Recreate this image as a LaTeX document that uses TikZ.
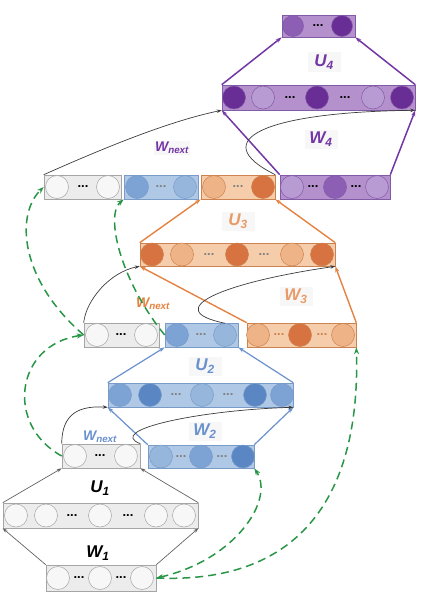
\documentclass[tikz,border=0pt]{standalone}
\usepackage{fontspec}
\setmainfont{Liberation Sans}
\usetikzlibrary{arrows.meta}

\definecolor{grayE}{RGB}{165,165,165}
\definecolor{grayF}{RGB}{236,236,236}
\definecolor{grayC}{RGB}{247,247,247}
\definecolor{blueE}{RGB}{120,155,200}
\definecolor{blueF}{RGB}{175,200,230}
\definecolor{blueL}{RGB}{150,182,220}
\definecolor{blueM}{RGB}{125,162,212}
\definecolor{blueD}{RGB}{90,135,195}
\definecolor{blueA}{RGB}{105,145,205}
\definecolor{orgE}{RGB}{205,130,80}
\definecolor{orgF}{RGB}{245,205,170}
\definecolor{orgL}{RGB}{238,180,135}
\definecolor{orgD}{RGB}{215,115,65}
\definecolor{orgA}{RGB}{228,130,65}
\definecolor{purE}{RGB}{130,90,165}
\definecolor{purF}{RGB}{180,145,205}
\definecolor{purL}{RGB}{185,155,212}
\definecolor{purM}{RGB}{140,95,180}
\definecolor{purD}{RGB}{105,45,150}
\definecolor{purA}{RGB}{115,55,165}
\definecolor{grnD}{RGB}{40,150,70}
\definecolor{lineD}{RGB}{60,60,60}

\begin{document}
\begin{tikzpicture}[
    x=1pt, y=-1pt,
    lay/.style={rectangle, draw, inner sep=0pt, minimum height=24pt, line width=0.6pt},
    unit/.style={circle, draw, inner sep=0pt, minimum size=23pt, line width=0.5pt},
    dots/.style={inner sep=0pt, font=\fontsize{13}{13}\selectfont\bfseries},
    lbl/.style={inner sep=1pt, minimum width=33pt, minimum height=19pt,
        font=\fontsize{17}{17}\selectfont\bfseries\itshape},
    nxt/.style={inner sep=1pt, font=\fontsize{14}{14}\selectfont\bfseries\itshape},
    blk/.style={-{Stealth[length=5pt,width=3.5pt]}, line width=0.7pt, draw=lineD},
    garr/.style={-{Stealth[length=5pt,width=3.5pt]}, line width=0.7pt, draw=lineD!80},
    barr/.style={-{Stealth[length=6pt,width=4pt]}, line width=1.2pt, draw=blueA},
    oarr/.style={-{Stealth[length=6pt,width=4pt]}, line width=1.4pt, draw=orgA},
    parr/.style={-{Stealth[length=6pt,width=4pt]}, line width=1.5pt, draw=purA},
    gdash/.style={-{Stealth[length=7pt,width=5pt]}, line width=1.5pt, draw=grnD,
        dash pattern=on 8pt off 5pt},
]
\useasboundingbox (0,0) rectangle (424,602);

%% Level 1: input, hidden, output
\node[lay, draw=grayE, fill=grayF, minimum width=110pt, minimum height=26pt] (in1) at (101,578) {};
\foreach \x [count=\i] in {58,100,142}
    \node[unit, draw=grayE, fill=grayC] (in1-\i) at (\x,578) {};
\foreach \x [count=\i] in {79,121}
    \node[dots] (in1-d\i) at (\x,578) {...};

\node[lay, draw=grayE, fill=grayF, minimum width=195pt, minimum height=25pt] (h1) at (100.5,515.5) {};
\foreach \x [count=\i] in {16,46,100,156,184}
    \node[unit, draw=grayE, fill=grayC] (h1-\i) at (\x,515.5) {};
\foreach \x [count=\i] in {72,128}
    \node[dots] (h1-d\i) at (\x,515.5) {...};

\node[lay, draw=grayE, fill=grayF, minimum width=78pt] (o1) at (101,456) {};
\foreach \x [count=\i] in {75,126}
    \node[unit, draw=grayE, fill=grayC] (o1-\i) at (\x,456) {};
\node[dots] (o1-d) at (100,456) {...};

%% Level 2: blue column
\node[lay, draw=blueE, fill=blueF, minimum width=106pt, minimum height=23pt] (in2) at (201,456.5) {};
\foreach \x/\c [count=\i] in {161/blueL,201/blueM,243/blueD}
    \node[unit, draw=blueE, fill=\c] (in2-\i) at (\x,456.5) {};
\foreach \x [count=\i] in {181,222}
    \node[dots, text=gray] (in2-d\i) at (\x,456.5) {...};

\node[lay, draw=blueE, fill=blueF, minimum width=185pt] (h2) at (200.5,395) {};
\foreach \x/\c [count=\i] in {120/blueM,150/blueD,202/blueL,255/blueD,282/blueM}
    \node[unit, draw=blueE, fill=\c] (h2-\i) at (\x,395) {};
\foreach \x [count=\i] in {176,228}
    \node[dots, text=gray] (h2-d\i) at (\x,395) {...};

\node[lay, draw=grayE, fill=grayF, minimum width=75pt] (o1b) at (121.5,335) {};
\foreach \x [count=\i] in {97,146}
    \node[unit, draw=grayE, fill=grayC] (o1b-\i) at (\x,335) {};
\node[dots] (o1b-d) at (121,335) {...};

\node[lay, draw=blueE, fill=blueF, minimum width=73pt] (o2) at (201.5,335) {};
\foreach \x/\c [count=\i] in {177/blueM,225/blueL}
    \node[unit, draw=blueE, fill=\c] (o2-\i) at (\x,335) {};
\node[dots, text=gray] (o2-d) at (201,335) {...};

%% Level 3: orange column
\node[lay, draw=orgE, fill=orgF, minimum width=109pt] (in3) at (301.5,335) {};
\foreach \x/\c [count=\i] in {258/orgL,300/orgD,343/orgL}
    \node[unit, draw=orgE, fill=\c] (in3-\i) at (\x,335) {};
\foreach \x [count=\i] in {279,322}
    \node[dots, text=orgE] (in3-d\i) at (\x,335) {...};

\node[lay, draw=orgE, fill=orgF, minimum width=195pt, minimum height=23pt] (h3) at (237.5,254.5) {};
\foreach \x/\c [count=\i] in {152/orgD,182/orgL,237/orgD,292/orgL,322/orgD}
    \node[unit, draw=orgE, fill=\c] (h3-\i) at (\x,254.5) {};
\foreach \x [count=\i] in {209,264}
    \node[dots, text=gray] (h3-d\i) at (\x,254.5) {...};

\node[lay, draw=grayE, fill=grayF, minimum width=77pt] (o1c) at (82.5,187) {};
\foreach \x [count=\i] in {57,108}
    \node[unit, draw=grayE, fill=grayC] (o1c-\i) at (\x,187) {};
\node[dots] (o1c-d) at (83,187) {...};

\node[lay, draw=blueE, fill=blueF, minimum width=74pt] (b3) at (161,187) {};
\foreach \x/\c [count=\i] in {137/blueM,185/blueL}
    \node[unit, draw=blueE, fill=\c] (b3-\i) at (\x,187) {};
\node[dots, text=gray] (b3-d) at (161,187) {...};

\node[lay, draw=orgE, fill=orgF, minimum width=74pt] (o3) at (238,187) {};
\foreach \x/\c [count=\i] in {214/orgL,263/orgD}
    \node[unit, draw=orgE, fill=\c] (o3-\i) at (\x,187) {};
\node[dots, text=gray] (o3-d) at (238,187) {...};

%% Level 4: purple column
\node[lay, draw=purE, fill=purF, minimum width=110pt] (in4) at (335,187) {};
\foreach \x/\c [count=\i] in {292/purL,335/purM,377/purL}
    \node[unit, draw=purE, fill=\c] (in4-\i) at (\x,187) {};
\foreach \x [count=\i] in {313,356}
    \node[dots] (in4-d\i) at (\x,187) {...};

\node[lay, draw=purE, fill=purF, minimum width=193pt, minimum height=25pt] (h4) at (318.5,97.5) {};
\foreach \x/\c [count=\i] in {234/purD,263/purL,317/purD,373/purL,402/purD}
    \node[unit, draw=purE, fill=\c] (h4-\i) at (\x,97.5) {};
\foreach \x [count=\i] in {290,345}
    \node[dots] (h4-d\i) at (\x,97.5) {...};

\node[lay, draw=purE, fill=purF, minimum width=73pt, minimum height=22pt] (o4) at (318.5,26) {};
\foreach \x/\c [count=\i] in {293/purM,342/purD}
    \node[unit, draw=purE, fill=\c, minimum size=21pt] (o4-\i) at (\x,26) {};
\node[dots] (o4-d) at (318,26) {...};

%% Labels
\node[lbl] (u1) at (100,488) {U\textsubscript{1}};
\node[lbl] (w1) at (98,553) {W\textsubscript{1}};
\node[lbl, fill=gray!6, text=blueA] (u2) at (205,366) {U\textsubscript{2}};
\node[lbl, fill=gray!6, text=blueA] (w2) at (205,431) {W\textsubscript{2}};
\node[nxt, text=blueA] (wn2) at (100,437) {W\textsubscript{next}};
\node[lbl, fill=gray!6, text=orgA!80] (u3) at (238,221) {U\textsubscript{3}};
\node[lbl, fill=gray!6, text=orgA!80] (w3) at (296,296) {W\textsubscript{3}};
\node[nxt, text=orgA] (wn3) at (153,304) {W\textsubscript{next}};
\node[lbl, fill=gray!6, text=purA] (u4) at (324,62) {U\textsubscript{4}};
\node[lbl, fill=gray!6, text=purA] (w4) at (321,139) {W\textsubscript{4}};
\node[nxt, fill=gray!6, text=purA] (wn4) at (172,148) {W\textsubscript{next}};

%% Level 1 arrows
\draw[garr] (in1.north west) -- (h1.south west);
\draw[garr] (in1.north east) -- (h1.south east);
\draw[garr] (h1.north west) -- (o1.south west);
\draw[garr] (h1.north east) -- (o1.south east);

%% Level 2 arrows
\draw[barr] (in2.north west) -- (h2.south west);
\draw[barr] (in2.north east) -- (h2.south east);
\draw[barr] (h2.north west) -- (o2.south west);
\draw[barr] (h2.north east) -- (o2.south east);
\draw[blk] (o1.north west) .. controls (62,420) and (72,405) .. (h2.south west);
\draw[blk] (o1.north east) .. controls (105,430) and (200,410) .. (h2.south east);

%% Level 3 arrows
\draw[oarr] (in3.north west) -- (h3.south west);
\draw[oarr] (in3.north east) -- (h3.south east);
\draw[oarr] (h3.north west) -- (o3.south west);
\draw[oarr] (h3.north east) -- (o3.south east);
\draw[blk] (o1b.north west) .. controls (86,300) and (110,272) .. (h3.south west);
\draw[blk] (o2-2.north) .. controls (160,310) and (220,283) .. (h3.south east);

%% Level 4 arrows
\draw[parr] (in4.north west) -- (h4.south west);
\draw[parr] (in4.north east) -- (h4.south east);
\draw[parr] (h4.north west) -- (o4.south west);
\draw[parr] (h4.north east) -- (o4.south east);
\draw[blk] (o1c.north west) .. controls (95,152) and (165,122) .. (h4.south west);
\draw[blk] (o3.north east) .. controls (205,140) and (265,112) .. (h4.south east);

%% Green dashed links
\draw[gdash, {Stealth[length=7pt,width=5pt]}-{Stealth[length=7pt,width=5pt]}]
    (in1.east) .. controls (235,560) and (275,500) .. (in2.south east);
\draw[gdash] (in1.east) .. controls (320,585) and (360,470) .. (in3.south east);
\draw[gdash] (o1.west) .. controls (5,425) and (15,345) .. (o1b.west);
\draw[gdash] (o1b.west) .. controls (20,280) and (15,215) .. (o1c.west);
\draw[gdash] (o2.west) .. controls (120,280) and (105,215) .. (b3.south west);

\end{tikzpicture}
\end{document}
